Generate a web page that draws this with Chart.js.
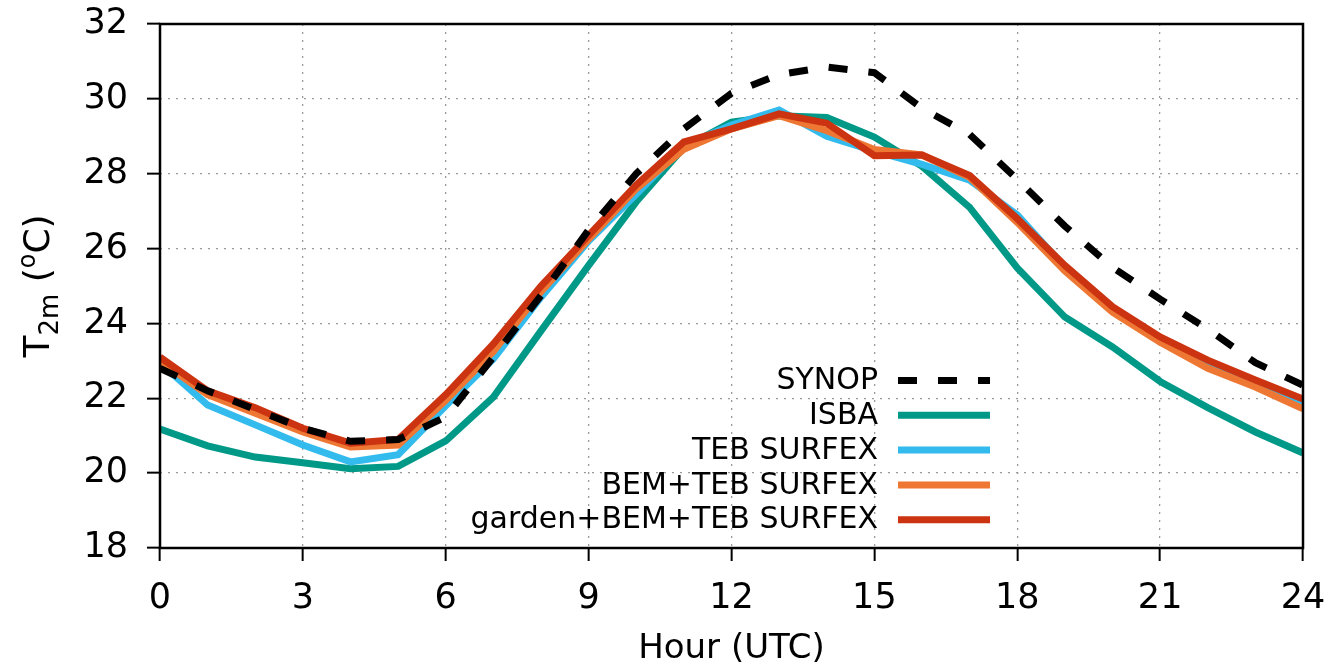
<!DOCTYPE html>
<html>
<head>
<meta charset="utf-8">
<script src="https://cdn.jsdelivr.net/npm/chart.js@4.4.1/dist/chart.umd.min.js"></script>
<style>
  html, body { margin: 0; padding: 0; background: #fff; }
</style>
</head>
<body>
<canvas id="myChartT2m" width="1334" height="669"></canvas>
<script>
// hourly 2 m temperature (degC)
const hours = [0, 1, 2, 3, 4, 5, 6, 7, 8, 9, 10, 11, 12, 13, 14, 15, 16, 17, 18, 19, 20, 21, 22, 23, 24];

const synop  = [22.8, 22.2, 21.7, 21.2, 20.85, 20.9, 21.5, 23.1, 24.75, 26.5, 28.0, 29.2, 30.15, 30.65, 30.85, 30.7, 29.75, 29.05, 27.85, 26.6, 25.5, 24.65, 23.85, 22.95, 22.35];
const isba   = [21.18, 20.73, 20.43, 20.28, 20.12, 20.18, 20.86, 22.03, 23.8, 25.55, 27.25, 28.7, 29.38, 29.55, 29.5, 28.98, 28.2, 27.1, 25.48, 24.17, 23.37, 22.45, 21.75, 21.1, 20.54];
const teb    = [22.95, 21.82, 21.29, 20.75, 20.3, 20.49, 21.8, 23.05, 24.7, 26.2, 27.45, 28.75, 29.3, 29.7, 29.0, 28.6, 28.25, 27.83, 26.9, 25.5, 24.4, 23.55, 22.9, 22.4, 21.85];
const bemTeb = [23.0, 22.1, 21.6, 21.1, 20.7, 20.75, 21.95, 23.25, 24.85, 26.25, 27.6, 28.65, 29.2, 29.55, 29.15, 28.65, 28.5, 27.9, 26.7, 25.4, 24.3, 23.5, 22.8, 22.3, 21.72];
const garden = [23.1, 22.2, 21.75, 21.2, 20.8, 20.9, 22.1, 23.45, 25.0, 26.35, 27.7, 28.85, 29.2, 29.6, 29.35, 28.48, 28.5, 27.95, 26.8, 25.55, 24.45, 23.64, 23.02, 22.49, 21.98];

const xTicks = [0, 3, 6, 9, 12, 15, 18, 21, 24];
const yTicks = [18, 20, 22, 24, 26, 28, 30, 32];

const FONT = '"DejaVu Sans", Verdana, sans-serif';

function toPoints(values) {
  return hours.map((h, i) => ({x: h, y: values[i]}));
}

function makeSet(label, values, color, order, dash) {
  return {
    label: label,
    data: toPoints(values),
    borderColor: color,
    backgroundColor: color,
    borderWidth: 7,
    borderDash: dash || [],
    borderCapStyle: 'butt',
    borderJoinStyle: 'miter',
    pointRadius: 0,
    tension: 0,
    fill: false,
    order: order
  };
}

// no extra room for overflowing tick labels, layout padding decides
function fixSize(scale, w, h) {
  if (w) scale.width = w;
  if (h) scale.height = h;
  scale.paddingTop = 0;
  scale.paddingBottom = 0;
  scale.paddingLeft = 0;
  scale.paddingRight = 0;
}

// frame, key and axis titles drawn by hand (gnuplot look)
const gnuplotBits = {
  id: 'gnuplotBits',
  afterDatasetsDraw(chart) {
    const {ctx, chartArea: a} = chart;
    ctx.save();
    ctx.setLineDash([]);
    ctx.strokeStyle = '#000';
    ctx.lineWidth = 2.5;
    ctx.strokeRect(a.left, a.top, a.right - a.left, a.bottom - a.top);

    // key
    ctx.font = '30px ' + FONT;
    ctx.fillStyle = '#000';
    ctx.textAlign = 'right';
    ctx.textBaseline = 'middle';
    chart.data.datasets.forEach((ds, i) => {
      const y = 380.5 + i * 34.8;
      ctx.fillText(ds.label, 878, y + 1);
      ctx.save();
      ctx.strokeStyle = ds.borderColor;
      ctx.lineWidth = ds.borderWidth;
      ctx.lineCap = 'butt';
      ctx.setLineDash(ds.borderDash);
      ctx.beginPath();
      ctx.moveTo(898, y);
      ctx.lineTo(990, y);
      ctx.stroke();
      ctx.restore();
    });

    // x title
    ctx.textAlign = 'center';
    ctx.textBaseline = 'alphabetic';
    ctx.font = '34px ' + FONT;
    ctx.fillText('Hour (UTC)', (a.left + a.right) / 2, 658);

    // y title with sub/superscript
    const parts = [['T', 36, 0], ['2m', 26, 9], [' (', 36, 0], ['o', 24, -14], ['C)', 36, 0]];
    let total = 0;
    parts.forEach(p => { ctx.font = p[1] + 'px ' + FONT; total += ctx.measureText(p[0]).width; });
    ctx.translate(49, (a.top + a.bottom) / 2);
    ctx.rotate(-Math.PI / 2);
    ctx.textAlign = 'left';
    let x = -total / 2;
    parts.forEach(p => {
      ctx.font = p[1] + 'px ' + FONT;
      ctx.fillText(p[0], x, p[2]);
      x += ctx.measureText(p[0]).width;
    });
    ctx.restore();
  }
};

const ctx = document.getElementById('myChartT2m').getContext('2d');

const myChartT2m = new Chart(ctx, {
  type: 'line',
  data: {
    datasets: [
      makeSet('SYNOP', synop, '#000000', 0, [19, 21]),
      makeSet('ISBA', isba, '#009988', 4),
      makeSet('TEB SURFEX', teb, '#33BBEE', 3),
      makeSet('BEM+TEB SURFEX', bemTeb, '#EE7733', 2),
      makeSet('garden+BEM+TEB SURFEX', garden, '#CC3311', 1)
    ]
  },
  options: {
    responsive: false,
    animation: false,
    devicePixelRatio: 1,
    layout: {padding: {top: 24, right: 31, left: 0, bottom: 0}},
    plugins: {legend: {display: false}, tooltip: {enabled: false}},
    scales: {
      x: {
        type: 'linear',
        min: 0,
        max: 24,
        afterFit: (scale) => fixSize(scale, 0, 121),
        afterBuildTicks: (scale) => { scale.ticks = xTicks.map(v => ({value: v})); },
        ticks: {color: '#000', font: {family: FONT, size: 35}, padding: 17, maxRotation: 0, autoSkip: false},
        grid: {color: '#9a9a9a', lineWidth: 1.3, tickLength: 13, tickColor: '#000', tickWidth: 2, tickBorderDash: []},
        border: {display: false, dash: [2, 6]}
      },
      y: {
        min: 18,
        max: 32,
        afterFit: (scale) => fixSize(scale, 160, 0),
        afterBuildTicks: (scale) => { scale.ticks = yTicks.map(v => ({value: v})); },
        ticks: {color: '#000', font: {family: FONT, size: 35}, padding: 19},
        grid: {color: '#9a9a9a', lineWidth: 1.3, tickLength: 13, tickColor: '#000', tickWidth: 2, tickBorderDash: []},
        border: {display: false, dash: [2, 6]}
      }
    }
  },
  plugins: [gnuplotBits]
});
</script>
</body>
</html>
